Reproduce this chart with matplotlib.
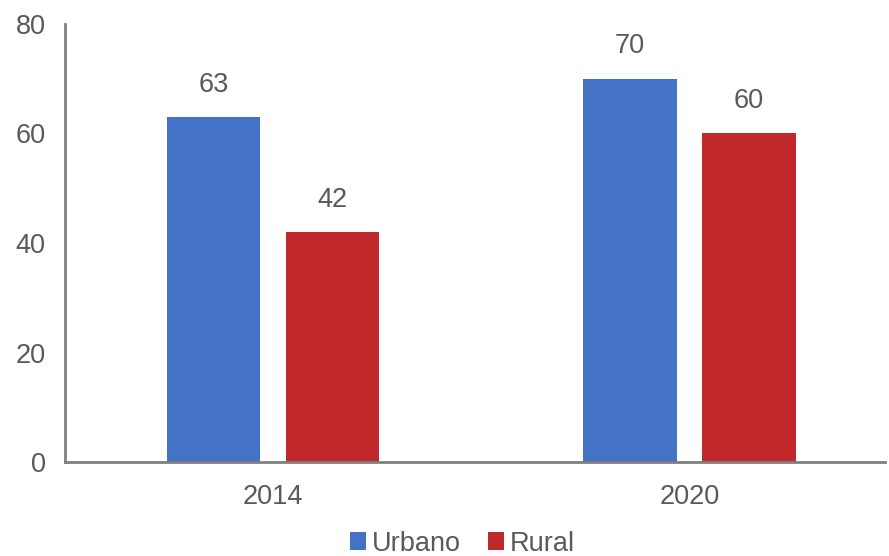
import matplotlib
matplotlib.use("Agg")
import matplotlib.pyplot as plt
import numpy as np

years = ["2014", "2020"]
urbano = [63, 70]
rural = [42, 60]
series_names = ["Urbano", "Rural"]
yticks = [0, 20, 40, 60, 80]

plt.rcParams['font.family'] = ['Liberation Sans', 'DejaVu Sans']
txt = "#595959"
blue = "#4472C4"
red = "#C0282B"

fig = plt.figure(figsize=(8.89, 5.56), dpi=100)
ax = fig.add_axes([0.0731, 0.169, 0.9224, 0.788])
x = np.arange(len(years))
w = 0.225
off = 0.143
b1 = ax.bar(x - off, urbano, w, color=blue, label=series_names[0])
b2 = ax.bar(x + off, rural, w, color=red, label=series_names[1])
for bars in (b1, b2):
    for r in bars:
        ax.annotate(f"{r.get_height():.0f}", (r.get_x() + r.get_width() / 2, r.get_height()),
                    xytext=(0, 14), textcoords="offset points", ha="center", va="bottom",
                    fontsize=19.5, color=txt)

ax.set_xlim(-0.5, 1.47)
ax.set_ylim(0, 80)
ax.set_yticks(yticks)
ax.set_xticks(x)
ax.set_xticklabels(years)
ax.tick_params(axis='both', length=0, labelsize=19.5, labelcolor=txt)
ax.tick_params(axis='y', pad=14)
ax.tick_params(axis='x', pad=16)
for s in ["top", "right"]:
    ax.spines[s].set_visible(False)
for s in ["left", "bottom"]:
    ax.spines[s].set_color("#7f7f7f")
    ax.spines[s].set_linewidth(2)

leg = fig.legend(handles=[b1, b2], loc="lower center", bbox_to_anchor=(0.52, -0.045), ncol=2,
                 frameon=False, fontsize=19.5, handlelength=0.6, handleheight=0.6,
                 handletextpad=0.2, columnspacing=1.0)
for t in leg.get_texts():
    t.set_color(txt)

fig.savefig("out.png", dpi=100)
